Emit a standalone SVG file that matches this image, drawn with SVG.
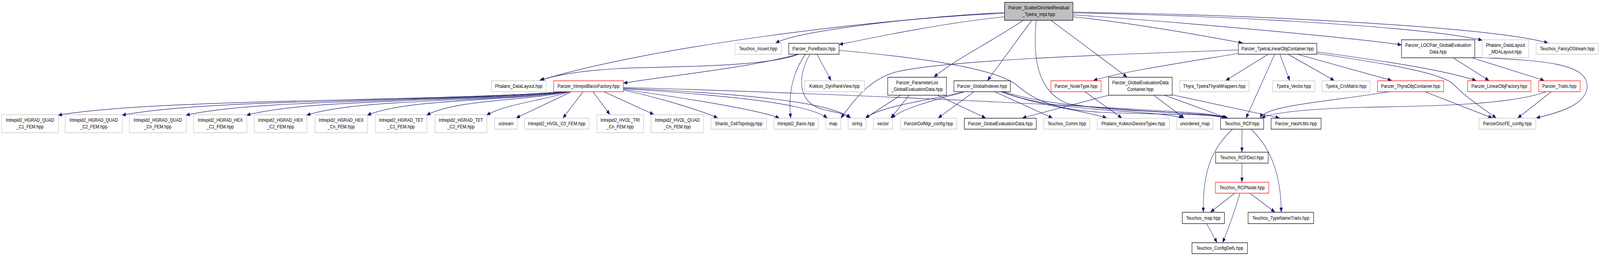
<svg xmlns="http://www.w3.org/2000/svg" width="4933" height="656" viewBox="0 0 4933 656" preserveAspectRatio="none">
<defs>
<marker id="arr" markerUnits="userSpaceOnUse" markerWidth="12" markerHeight="9" refX="11" refY="4.5" orient="auto"><path d="M0,0 L11,4.5 L0,9 z" fill="#191970" stroke="#191970" stroke-width="1"/></marker>
</defs>
<style>
svg{width:100vw;height:100vh}
rect{fill:#fff;stroke:#bfbfbf;stroke-width:1.3}
.d rect{stroke:#000}
.r rect{stroke:#f00}
.root rect{fill:#bfbfbf;stroke:#000}
text{font-family:"Liberation Sans",Arial,sans-serif;font-size:13px;fill:#000;text-anchor:middle}
#edges path{fill:none;stroke:#191970;stroke-width:1.2;marker-end:url(#arr)}
</style>
<rect x="0" y="0" width="4933" height="656" style="fill:#fff;stroke:none"/>
<g id="edges">
<path d="M3097,32 C2800,45 2460,80 2392,110"/>
<path d="M3097,34 C2700,48 2000,120 1664,206"/>
<path d="M3097,43 C2900,60 2700,95 2588,114"/>
<path d="M3155,52 C3050,110 2950,150 2880,197"/>
<path d="M3181,52 L3045,206"/>
<path d="M3195,52 C3183,150 3200,235 3290,265 C3450,290 3700,285 3785,302"/>
<path d="M3240,52 L3474,197"/>
<path d="M3308,43 C3500,60 3700,90 3830,110"/>
<path d="M3308,38 C3700,60 4200,100 4320,115"/>
<path d="M3308,33 C3800,40 4400,70 4569,103"/>
<path d="M3308,31 C3900,38 4600,70 4772,110"/>
<path d="M2463,139 C2350,175 2000,170 1900,176 C1780,182 1700,195 1667,206"/>
<path d="M2460,139 C2300,175 2050,195 1923,213"/>
<path d="M2483,139 C2440,190 2430,250 2438,302"/>
<path d="M2497,139 C2455,200 2460,268 2545,282 C2590,290 2610,293 2622,302"/>
<path d="M2519,139 L2562,206"/>
<path d="M2587,129 C2800,145 3050,170 3130,215 C3180,250 3230,280 3400,288 C3600,295 3720,290 3783,302"/>
<path d="M1744,235 C1275,262 493,252 180,295"/>
<path d="M1746,235 C1335,262 651,252 377,295"/>
<path d="M1748,235 C1396,262 809,252 574,295"/>
<path d="M1750,235 C1453,262 959,252 761,295"/>
<path d="M1752,235 C1510,262 1107,252 946,295"/>
<path d="M1754,235 C1568,260 1257,252 1133,295"/>
<path d="M1756,235 C1624,258 1404,255 1316,295"/>
<path d="M1758,235 C1681,256 1552,268 1501,295"/>
<path d="M1762,235 L1592,302"/>
<path d="M1798,235 L1736,302"/>
<path d="M1828,235 L1880,293"/>
<path d="M1862,235 L2015,293"/>
<path d="M1922,231 C2030,250 2150,280 2212,302"/>
<path d="M1922,229 C2100,250 2330,280 2402,302"/>
<path d="M1922,227 C2250,245 2490,265 2550,302"/>
<path d="M1922,226 C2300,240 2560,262 2620,302"/>
<path d="M1922,224 C2600,240 3300,270 3500,280 C3650,287 3740,290 3781,302"/>
<path d="M2777,244 L2669,302"/>
<path d="M2803,244 L2747,302"/>
<path d="M2890,244 L3038,302"/>
<path d="M2968,236 C2880,255 2720,270 2669,302"/>
<path d="M2972,236 C2860,260 2780,280 2749,302"/>
<path d="M3003,235 L2893,302"/>
<path d="M3067,235 L3244,302"/>
<path d="M3085,235 C3200,270 3350,285 3411,302"/>
<path d="M3090,235 C3250,290 3550,280 3646,302"/>
<path d="M3095,235 C3300,290 3650,280 3778,302"/>
<path d="M3345,235 L3458,302"/>
<path d="M3418,244 L3153,302"/>
<path d="M3557,244 L3650,302"/>
<path d="M3590,244 L3782,302"/>
<path d="M3614,243 L3944,302"/>
<path d="M3818,128 C3400,140 2900,155 2760,185 C2680,205 2640,250 2593,302"/>
<path d="M3818,137 C3650,160 3450,185 3372,206"/>
<path d="M3910,139 L3780,206"/>
<path d="M3930,139 L3842,302"/>
<path d="M3946,139 L3976,206"/>
<path d="M3971,139 L4113,206"/>
<path d="M4000,139 L4290,206"/>
<path d="M4060,133 C4300,160 4450,180 4550,206"/>
<path d="M4060,137 C4250,160 4440,185 4480,215 C4520,250 4560,270 4612,302"/>
<path d="M4480,148 L4590,206"/>
<path d="M4538,148 L4760,206"/>
<path d="M4547,147 C4750,155 4900,160 4893,225 C4888,270 4800,290 4737,302"/>
<path d="M4285,235 C4100,260 3900,270 3886,302"/>
<path d="M4393,235 L4600,302"/>
<path d="M4768,235 C4650,270 4400,272 4200,275 C4000,280 3920,290 3890,302"/>
<path d="M4783,235 L4680,302"/>
<path d="M3829,331 L3829,389"/>
<path d="M3800,331 C3740,380 3708,430 3710,543"/>
<path d="M3857,331 C3920,380 3950,450 3950,543"/>
<path d="M3829,418 L3829,466"/>
<path d="M3807,495 L3733,543"/>
<path d="M3823,495 C3800,560 3780,600 3770,621"/>
<path d="M3853,495 L3930,543"/>
<path d="M3720,573 L3752,621"/>
</g>
<g id="n_root" class="root"><rect x="3097" y="6" width="211" height="46"/><text x="3202.5" y="24.5">Panzer_ScatterDirichletResidual</text><text x="3202.5" y="41.5">_Tpetra_impl.hpp</text></g>
<g id="n_assert"><rect x="2266" y="111" width="143" height="28"/><text x="2337.5" y="129.5">Teuchos_Assert.hpp</text></g>
<g id="n_purebasis" class="d"><rect x="2432" y="111" width="155" height="28"/><text x="2509.5" y="129.5">Panzer_PureBasis.hpp</text></g>
<g id="n_tpetraloc" class="d"><rect x="3818" y="111" width="242" height="28"/><text x="3939" y="129.5">Panzer_TpetraLinearObjContainer.hpp</text></g>
<g id="n_locpair" class="d"><rect x="4321" y="102" width="226" height="46"/><text x="4434" y="120.5">Panzer_LOCPair_GlobalEvaluation</text><text x="4434" y="137.5">Data.hpp</text></g>
<g id="n_mdalayout"><rect x="4570" y="102" width="143" height="46"/><text x="4641.5" y="120.5">Phalanx_DataLayout</text><text x="4641.5" y="137.5">_MDALayout.hpp</text></g>
<g id="n_fancy"><rect x="4736" y="111" width="192" height="28"/><text x="4832" y="129.5">Teuchos_FancyOStream.hpp</text></g>
<g id="n_datalayout"><rect x="1515" y="207" width="169" height="28"/><text x="1599.5" y="225.5">Phalanx_DataLayout.hpp</text></g>
<g id="n_ibf" class="r"><rect x="1707" y="207" width="215" height="28"/><text x="1814.5" y="225.5">Panzer_IntrepidBasisFactory.hpp</text></g>
<g id="n_dynrank"><rect x="2481" y="207" width="184" height="28"/><text x="2573" y="225.5">Kokkos_DynRankView.hpp</text></g>
<g id="n_paramlist" class="d"><rect x="2737" y="198" width="181" height="46"/><text x="2827.5" y="216.5">Panzer_ParameterList</text><text x="2827.5" y="233.5">_GlobalEvaluationData.hpp</text></g>
<g id="n_gidx" class="d"><rect x="2941" y="207" width="174" height="28"/><text x="3028" y="225.5">Panzer_GlobalIndexer.hpp</text></g>
<g id="n_nodetype" class="r"><rect x="3240" y="207" width="155" height="28"/><text x="3317.5" y="225.5">Panzer_NodeType.hpp</text></g>
<g id="n_gedc" class="d"><rect x="3418" y="198" width="196" height="46"/><text x="3516" y="216.5">Panzer_GlobalEvaluationData</text><text x="3516" y="233.5">Container.hpp</text></g>
<g id="n_thyrawrap"><rect x="3637" y="207" width="214" height="28"/><text x="3744" y="225.5">Thyra_TpetraThyraWrappers.hpp</text></g>
<g id="n_tvec"><rect x="3924" y="207" width="130" height="28"/><text x="3989" y="225.5">Tpetra_Vector.hpp</text></g>
<g id="n_tcrs"><rect x="4076" y="207" width="148" height="28"/><text x="4150" y="225.5">Tpetra_CrsMatrix.hpp</text></g>
<g id="n_thyraobj" class="r"><rect x="4247" y="207" width="204" height="28"/><text x="4349" y="225.5">Panzer_ThyraObjContainer.hpp</text></g>
<g id="n_lof" class="r"><rect x="4525" y="207" width="195" height="28"/><text x="4622.5" y="225.5">Panzer_LinearObjFactory.hpp</text></g>
<g id="n_traits" class="r"><rect x="4744" y="207" width="128" height="28"/><text x="4808" y="225.5">Panzer_Traits.hpp</text></g>
<g id="n_qc1"><rect x="5" y="294" width="175" height="46"/><text x="92.5" y="312.5">Intrepid2_HGRAD_QUAD</text><text x="92.5" y="329.5">_C1_FEM.hpp</text></g>
<g id="n_qc2"><rect x="201" y="294" width="176" height="46"/><text x="289" y="312.5">Intrepid2_HGRAD_QUAD</text><text x="289" y="329.5">_C2_FEM.hpp</text></g>
<g id="n_qcn"><rect x="399" y="294" width="175" height="46"/><text x="486.5" y="312.5">Intrepid2_HGRAD_QUAD</text><text x="486.5" y="329.5">_Cn_FEM.hpp</text></g>
<g id="n_hc1"><rect x="597" y="294" width="164" height="46"/><text x="679" y="312.5">Intrepid2_HGRAD_HEX</text><text x="679" y="329.5">_C1_FEM.hpp</text></g>
<g id="n_hc2"><rect x="784" y="294" width="162" height="46"/><text x="865" y="312.5">Intrepid2_HGRAD_HEX</text><text x="865" y="329.5">_C2_FEM.hpp</text></g>
<g id="n_hcn"><rect x="971" y="294" width="162" height="46"/><text x="1052" y="312.5">Intrepid2_HGRAD_HEX</text><text x="1052" y="329.5">_Cn_FEM.hpp</text></g>
<g id="n_tc1"><rect x="1157" y="294" width="159" height="46"/><text x="1236.5" y="312.5">Intrepid2_HGRAD_TET</text><text x="1236.5" y="329.5">_C1_FEM.hpp</text></g>
<g id="n_tc2"><rect x="1341" y="294" width="160" height="46"/><text x="1421" y="312.5">Intrepid2_HGRAD_TET</text><text x="1421" y="329.5">_C2_FEM.hpp</text></g>
<g id="n_sstream"><rect x="1525" y="303" width="70" height="28"/><text x="1560" y="321.5">sstream</text></g>
<g id="n_hvolc0"><rect x="1617" y="303" width="199" height="28"/><text x="1716.5" y="321.5">Intrepid2_HVOL_C0_FEM.hpp</text></g>
<g id="n_hvoltri"><rect x="1840" y="294" width="144" height="46"/><text x="1912" y="312.5">Intrepid2_HVOL_TRI</text><text x="1912" y="329.5">_Cn_FEM.hpp</text></g>
<g id="n_hvolquad"><rect x="2007" y="294" width="162" height="46"/><text x="2088" y="312.5">Intrepid2_HVOL_QUAD</text><text x="2088" y="329.5">_Cn_FEM.hpp</text></g>
<g id="n_shards"><rect x="2192" y="303" width="171" height="28"/><text x="2277.5" y="321.5">Shards_CellTopology.hpp</text></g>
<g id="n_ibasis"><rect x="2386" y="303" width="137" height="28"/><text x="2454.5" y="321.5">Intrepid2_Basis.hpp</text></g>
<g id="n_map"><rect x="2546" y="303" width="46" height="28"/><text x="2569" y="321.5">map</text></g>
<g id="n_string"><rect x="2615" y="303" width="55" height="28"/><text x="2642.5" y="321.5">string</text></g>
<g id="n_vector"><rect x="2693" y="303" width="59" height="28"/><text x="2722.5" y="321.5">vector</text></g>
<g id="n_dofcfg"><rect x="2776" y="303" width="174" height="28"/><text x="2863" y="321.5">PanzerDofMgr_config.hpp</text></g>
<g id="n_ged" class="d"><rect x="2973" y="303" width="222" height="28"/><text x="3084" y="321.5">Panzer_GlobalEvaluationData.hpp</text></g>
<g id="n_comm"><rect x="3218" y="303" width="142" height="28"/><text x="3289" y="321.5">Teuchos_Comm.hpp</text></g>
<g id="n_kokkosdev"><rect x="3383" y="303" width="222" height="28"/><text x="3494" y="321.5">Phalanx_KokkosDeviceTypes.hpp</text></g>
<g id="n_umap"><rect x="3628" y="303" width="112" height="28"/><text x="3684" y="321.5">unordered_map</text></g>
<g id="n_rcp" class="d"><rect x="3763" y="303" width="133" height="28"/><text x="3829.5" y="321.5">Teuchos_RCP.hpp</text></g>
<g id="n_hash" class="d"><rect x="3919" y="303" width="154" height="28"/><text x="3996" y="321.5">Panzer_HashUtils.hpp</text></g>
<g id="n_discfe"><rect x="4560" y="303" width="175" height="28"/><text x="4647.5" y="321.5">PanzerDiscFE_config.hpp</text></g>
<g id="n_rcpdecl" class="d"><rect x="3748" y="390" width="162" height="28"/><text x="3829" y="408.5">Teuchos_RCPDecl.hpp</text></g>
<g id="n_rcpnode" class="r"><rect x="3747" y="467" width="165" height="28"/><text x="3829.5" y="485.5">Teuchos_RCPNode.hpp</text></g>
<g id="n_tmap" class="d"><rect x="3645" y="544" width="130" height="29"/><text x="3710" y="563">Teuchos_map.hpp</text></g>
<g id="n_typename" class="d"><rect x="3848" y="544" width="202" height="29"/><text x="3949" y="563">Teuchos_TypeNameTraits.hpp</text></g>
<g id="n_configdefs" class="d"><rect x="3675" y="622" width="171" height="28"/><text x="3760.5" y="640.5">Teuchos_ConfigDefs.hpp</text></g>
</svg>
